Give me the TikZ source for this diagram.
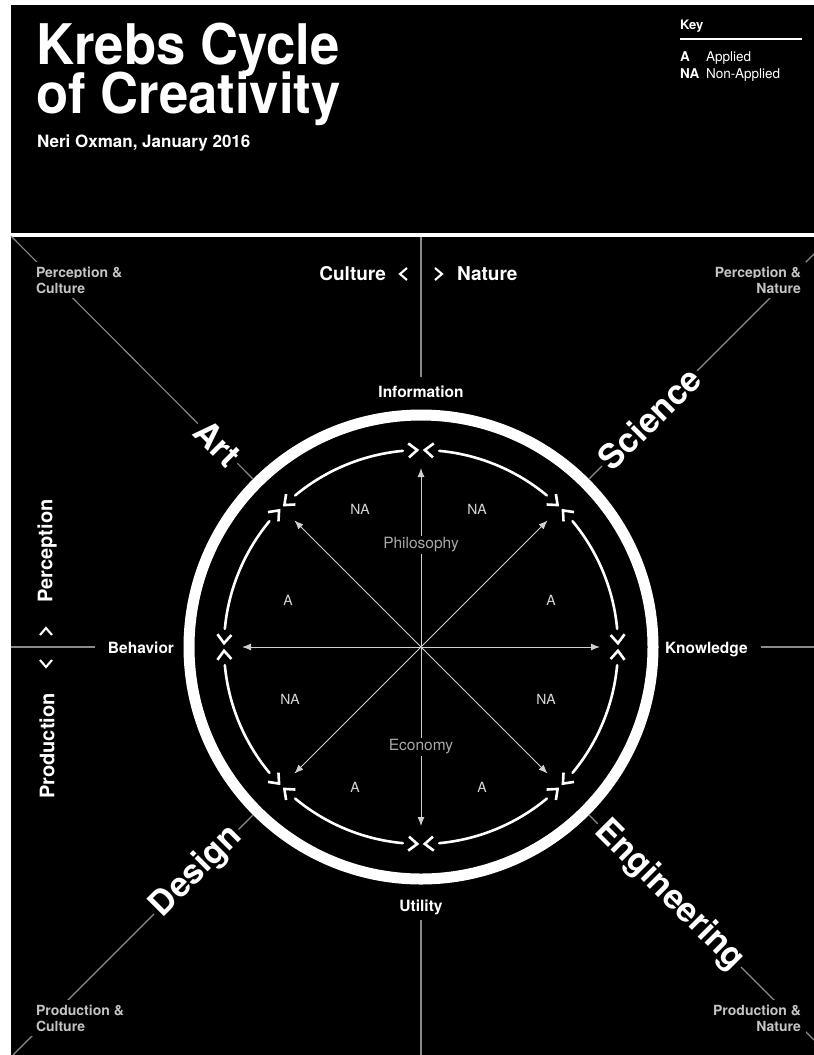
\documentclass[tikz,border=0pt]{standalone}
\usepackage{fontspec}
\setmainfont{TeX Gyre Heros}
\usetikzlibrary{arrows.meta,calc}
\definecolor{axisgray}{HTML}{8A8A8A}
\definecolor{spokegray}{HTML}{D0D0D0}
\definecolor{cornergray}{HTML}{C4C4C4}
\definecolor{innergray}{HTML}{D8D8D8}
\definecolor{philgray}{HTML}{A8A8A8}
\newcommand{\fsz}[1]{\fontsize{#1}{#1}\selectfont}
\begin{document}
\begin{tikzpicture}[x=1pt,y=-1pt,
 every node/.style={inner sep=0pt,outer sep=0pt,text=white},
 axisline/.style={draw=axisgray,line width=1.1pt},
 spoke/.style={draw=spokegray,line width=1pt,-{Latex[length=9pt,width=7pt]}},
 cycline/.style={draw=white,line width=2.6pt,line cap=round},
 chev/.style={draw=white,line width=2.6pt,line join=miter,line cap=butt},
 pchev/.style={draw=white,line width=2.1pt,line join=miter},
 bigword/.style={font=\bfseries\fsz{34},fill=black,inner sep=3pt},
 corner/.style={font=\bfseries\fsz{14},text=cornergray,fill=black,inner sep=5pt},
 pole/.style={font=\bfseries\fsz{15.5}},
 inlbl/.style={font=\fsz{14},text=innergray},
 midlbl/.style={font=\fsz{15.5},text=philgray,fill=black,inner sep=2pt},
 sidelbl/.style={font=\bfseries\fsz{20},fill=black,inner sep=2pt}
]
\useasboundingbox (0,0) rectangle (814,1055);
\fill[white] (0,0) rectangle (814,1055);
\fill[black] (11,5) rectangle (814,1055);
\fill[white] (11,233) rectangle (814,237);

% header
\node[anchor=base west,font=\bfseries\fsz{56}] (title1) at (36,64) {\scalebox{0.94}[1]{Krebs Cycle}};
\node[anchor=base west,font=\bfseries\fsz{56}] (title2) at (36,113) {\scalebox{0.94}[1]{of Creativity}};
\node[anchor=base west,font=\bfseries\fsz{17}] (author) at (37,147) {Neri Oxman, January 2016};

\node[anchor=base west,font=\bfseries\fsz{13}] (key) at (680,29) {Key};
\coordinate (keyL) at (680,39);
\coordinate (keyR) at (802,39);
\draw[white,line width=1.3pt] (keyL) -- (keyR);
\node[anchor=base west,font=\bfseries\fsz{13.5}] (kA) at (680,61) {A};
\node[anchor=base west,font=\fsz{13.5}] (kAt) at (706,61) {Applied};
\node[anchor=base west,font=\bfseries\fsz{13.5}] (kNA) at (680,78) {NA};
\node[anchor=base west,font=\fsz{13.5}] (kNAt) at (706,78) {Non-Applied};

% geometry
\coordinate (C) at (421,647);
\coordinate (cTL) at (11,236);
\coordinate (cTR) at (814,254);
\coordinate (cBL) at (13,1055);
\coordinate (cBR) at (814,1040);
\coordinate (rTL) at ($(C)+(-168.3,-168.3)$);
\coordinate (rTR) at ($(C)+(168.3,-168.3)$);
\coordinate (rBL) at ($(C)+(-168.3,168.3)$);
\coordinate (rBR) at ($(C)+(168.3,168.3)$);

% diagonals
\draw[axisline] (cTL) -- (rTL);
\draw[axisline] (cTR) -- (rTR);
\draw[axisline] (cBL) -- (rBL);
\draw[axisline] (cBR) -- (rBR);

% pole labels
\node[pole,anchor=base] (info) at (421,397) {Information};
\node[pole,anchor=base] (utility) at (421,911) {Utility};
\node[pole,anchor=base east] (behavior) at (174,653) {Behavior};
\node[pole,anchor=base west] (knowledge) at (665,653) {Knowledge};

% axes
\coordinate (vtop) at (421,237);
\coordinate (vbot) at (421,1055);
\coordinate (hl) at (11,647);
\coordinate (hr) at (814,647);
\coordinate (infotop) at ([yshift=8pt]info.north);
\coordinate (utilbot) at ([yshift=-6pt]utility.south);
\coordinate (behl) at ([xshift=-13pt]behavior.west);
\coordinate (knor) at ([xshift=13pt]knowledge.east);
\draw[axisline] (vtop) -- (infotop);
\draw[axisline] (utilbot) -- (vbot);
\draw[axisline] (hl) -- (behl |- hl);
\draw[axisline] (knor |- hr) -- (hr);

% ring
\draw[white,line width=11pt] (C) circle[radius=232];

% cycle arcs, chevrons and spokes
\foreach \t in {0,45,...,315}{
  \draw[cycline] plot[domain=\t+5.3:\t+39.7,samples=24,smooth,variable=\a] ({421+197*cos(\a)},{647+197*sin(\a)});
  \draw[chev] ($(C)+({\t+3.6}:204)$) -- ($(C)+({\t+1.1}:197)$) -- ($(C)+({\t+3.6}:190)$);
  \draw[chev] ($(C)+({\t-3.6}:204)$) -- ($(C)+({\t-1.1}:197)$) -- ($(C)+({\t-3.6}:190)$);
  \coordinate (sp\t) at ($(C)+(\t:179)$);
  \draw[spoke] (C) -- (sp\t);
}

% inner labels
\node[inlbl] (na1) at (360,509) {NA};
\node[inlbl] (na2) at (477,509) {NA};
\node[inlbl] (a1) at (288,600) {A};
\node[inlbl] (a2) at (551,600) {A};
\node[inlbl] (na3) at (290,699) {NA};
\node[inlbl] (na4) at (546,699) {NA};
\node[inlbl] (a3) at (355,787) {A};
\node[inlbl] (a4) at (482,787) {A};
\node[midlbl] (phil) at (421,545) {Philosophy};
\node[midlbl] (econ) at (421,747) {Economy};

% big diagonal words
\node[bigword,rotate=-45,anchor=east] (art) at (237.2,463.2) {Art};
\node[bigword,rotate=45,anchor=west] (science) at (602,466) {Science};
\node[bigword,rotate=45,anchor=east] (design) at (238.6,829.4) {Design};
\node[bigword,rotate=-45,anchor=west] (engineering) at (597.8,823.8) {Engineering};

% corner labels
\node[corner,anchor=base west] (pc1) at (31,277) {Perception \&};
\node[corner,anchor=base west] (pc2) at (31,293) {Culture};
\node[corner,anchor=base east] (pn1) at (806,277) {Perception \&};
\node[corner,anchor=base east] (pn2) at (806,293) {Nature};
\node[corner,anchor=base west] (prc1) at (31,1015) {Production \&};
\node[corner,anchor=base west] (prc2) at (31,1031) {Culture};
\node[corner,anchor=base east] (prn1) at (806,1015) {Production \&};
\node[corner,anchor=base east] (prn2) at (806,1031) {Nature};

% Culture / Nature
\node[anchor=base east,font=\bfseries\fsz{19}] (culture) at (386,280) {Culture};
\node[anchor=base west,font=\bfseries\fsz{19}] (nature) at (457,280) {Nature};
\draw[pchev] (407,268) -- (400,274) -- (407,280);
\draw[pchev] (435,268) -- (442,274) -- (435,280);

% Perception / Production
\node[sidelbl,rotate=90] (perception) at (47,551) {Perception};
\node[sidelbl,rotate=90] (production) at (47,746) {Production};
\draw[pchev] (40,635) -- (46,628) -- (52,635);
\draw[pchev] (40,660) -- (46,667) -- (52,660);
\end{tikzpicture}
\end{document}
